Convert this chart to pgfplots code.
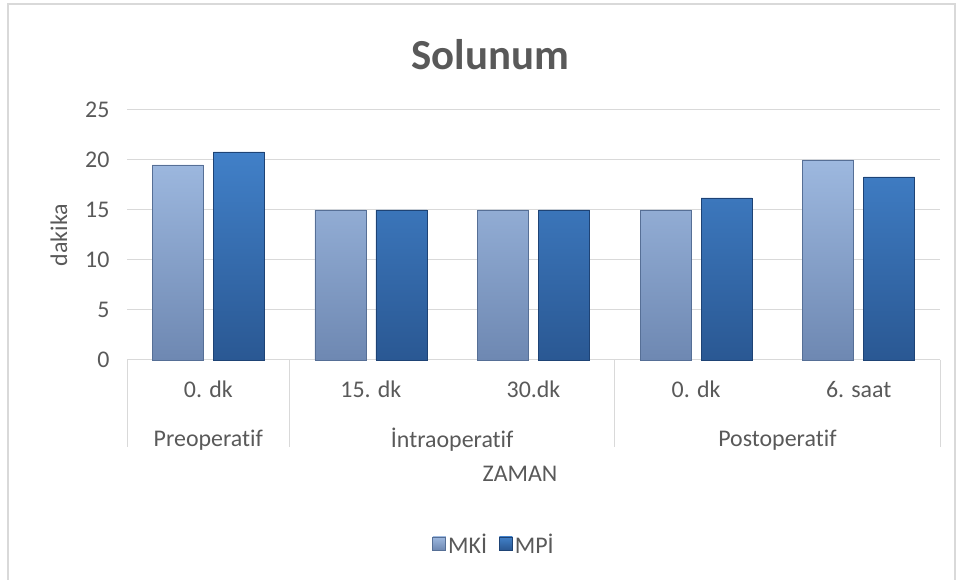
\documentclass[border=0pt]{standalone}
\usepackage{pgfplots}
\pgfplotsset{compat=1.18}
\usepackage{fontspec}
\setmainfont{Carlito}[Ligatures={NoCommon}]
\definecolor{gridc}{HTML}{D9D9D9}
\definecolor{txt}{HTML}{595959}
\definecolor{mkitop}{HTML}{9DB8DF}
\definecolor{mkibot}{HTML}{6E88B2}
\definecolor{mkiedge}{HTML}{566F96}
\definecolor{mpitop}{HTML}{4180C8}
\definecolor{mpibot}{HTML}{2A5893}
\definecolor{mpiedge}{HTML}{1E4375}
\begin{document}
\begin{tikzpicture}[x=1bp,y=1bp]
\path[use as bounding box] (0,0) rectangle (960,580);
\draw[gridc, line width=1.5bp] (8,0) -- (8,576) -- (955,576) -- (955,0);
\node[font=\fontsize{43}{48}\selectfont\bfseries, text=txt] at (490,525) {Solunum};
\node[font=\fontsize{24}{28}\selectfont, text=txt, rotate=90] at (59,345) {dakika};
\node[font=\fontsize{24}{28}\selectfont, text=txt] at (520,106) {ZAMAN};
\begin{axis}[
  at={(127bp,220bp)}, anchor=south west,
  width=813bp, height=250bp, scale only axis,
  ymin=0, ymax=25, ytick={0,5,10,15,20,25},
  xmin=-0.5, xmax=4.5,
  xtick={0,1,2,3,4},
  xticklabels={0. dk,15. dk,30.dk,0. dk,6. saat},
  ybar=10bp, bar width=51bp,
  ymajorgrids, major grid style={gridc, line width=1bp},
  axis line style={draw=none},
  tick style={draw=none},
  tick label style={font=\fontsize{24}{28}\selectfont, text=txt},
  /pgf/number format/assume math mode=true,
  yticklabel style={xshift=-14bp},
  xticklabel style={yshift=-18bp, text height=12bp, text depth=3bp},
  clip=false,
  area legend,
  legend image code/.code={\draw[#1] (0bp,-6bp) rectangle (13bp,7bp);},
  legend style={at={(axis description cs:0.4514,-0.736)}, anchor=center, draw=none, fill=none,
    legend columns=2, font=\fontsize{24}{28}\selectfont, text=txt,
    /tikz/every even column/.append style={column sep=10bp}},
  legend cell align=left,
]
\addplot[draw=mkiedge, line width=0.8bp, top color=mkitop, bottom color=mkibot]
  coordinates {(0,19.5) (1,15) (2,15) (3,15) (4,20)};
\addplot[draw=mpiedge, line width=0.8bp, top color=mpitop, bottom color=mpibot]
  coordinates {(0,20.8) (1,15) (2,15) (3,16.2) (4,18.3)};
\legend{MKİ,MPİ}
\draw[gridc, line width=1bp] (axis cs:-0.5,0) -- ([yshift=-87bp]axis cs:-0.5,0);
\draw[gridc, line width=1bp] (axis cs:0.5,0) -- ([yshift=-87bp]axis cs:0.5,0);
\draw[gridc, line width=1bp] (axis cs:2.5,0) -- ([yshift=-87bp]axis cs:2.5,0);
\draw[gridc, line width=1bp] (axis cs:4.5,0) -- ([yshift=-87bp]axis cs:4.5,0);
\node[font=\fontsize{24}{28}\selectfont, text=txt] at ([yshift=-80bp]axis cs:0,0) {Preoperatif};
\node[font=\fontsize{24}{28}\selectfont, text=txt] at ([yshift=-80bp]axis cs:1.5,0) {İntraoperatif};
\node[font=\fontsize{24}{28}\selectfont, text=txt] at ([yshift=-80bp]axis cs:3.5,0) {Postoperatif};
\end{axis}
\end{tikzpicture}
\end{document}
